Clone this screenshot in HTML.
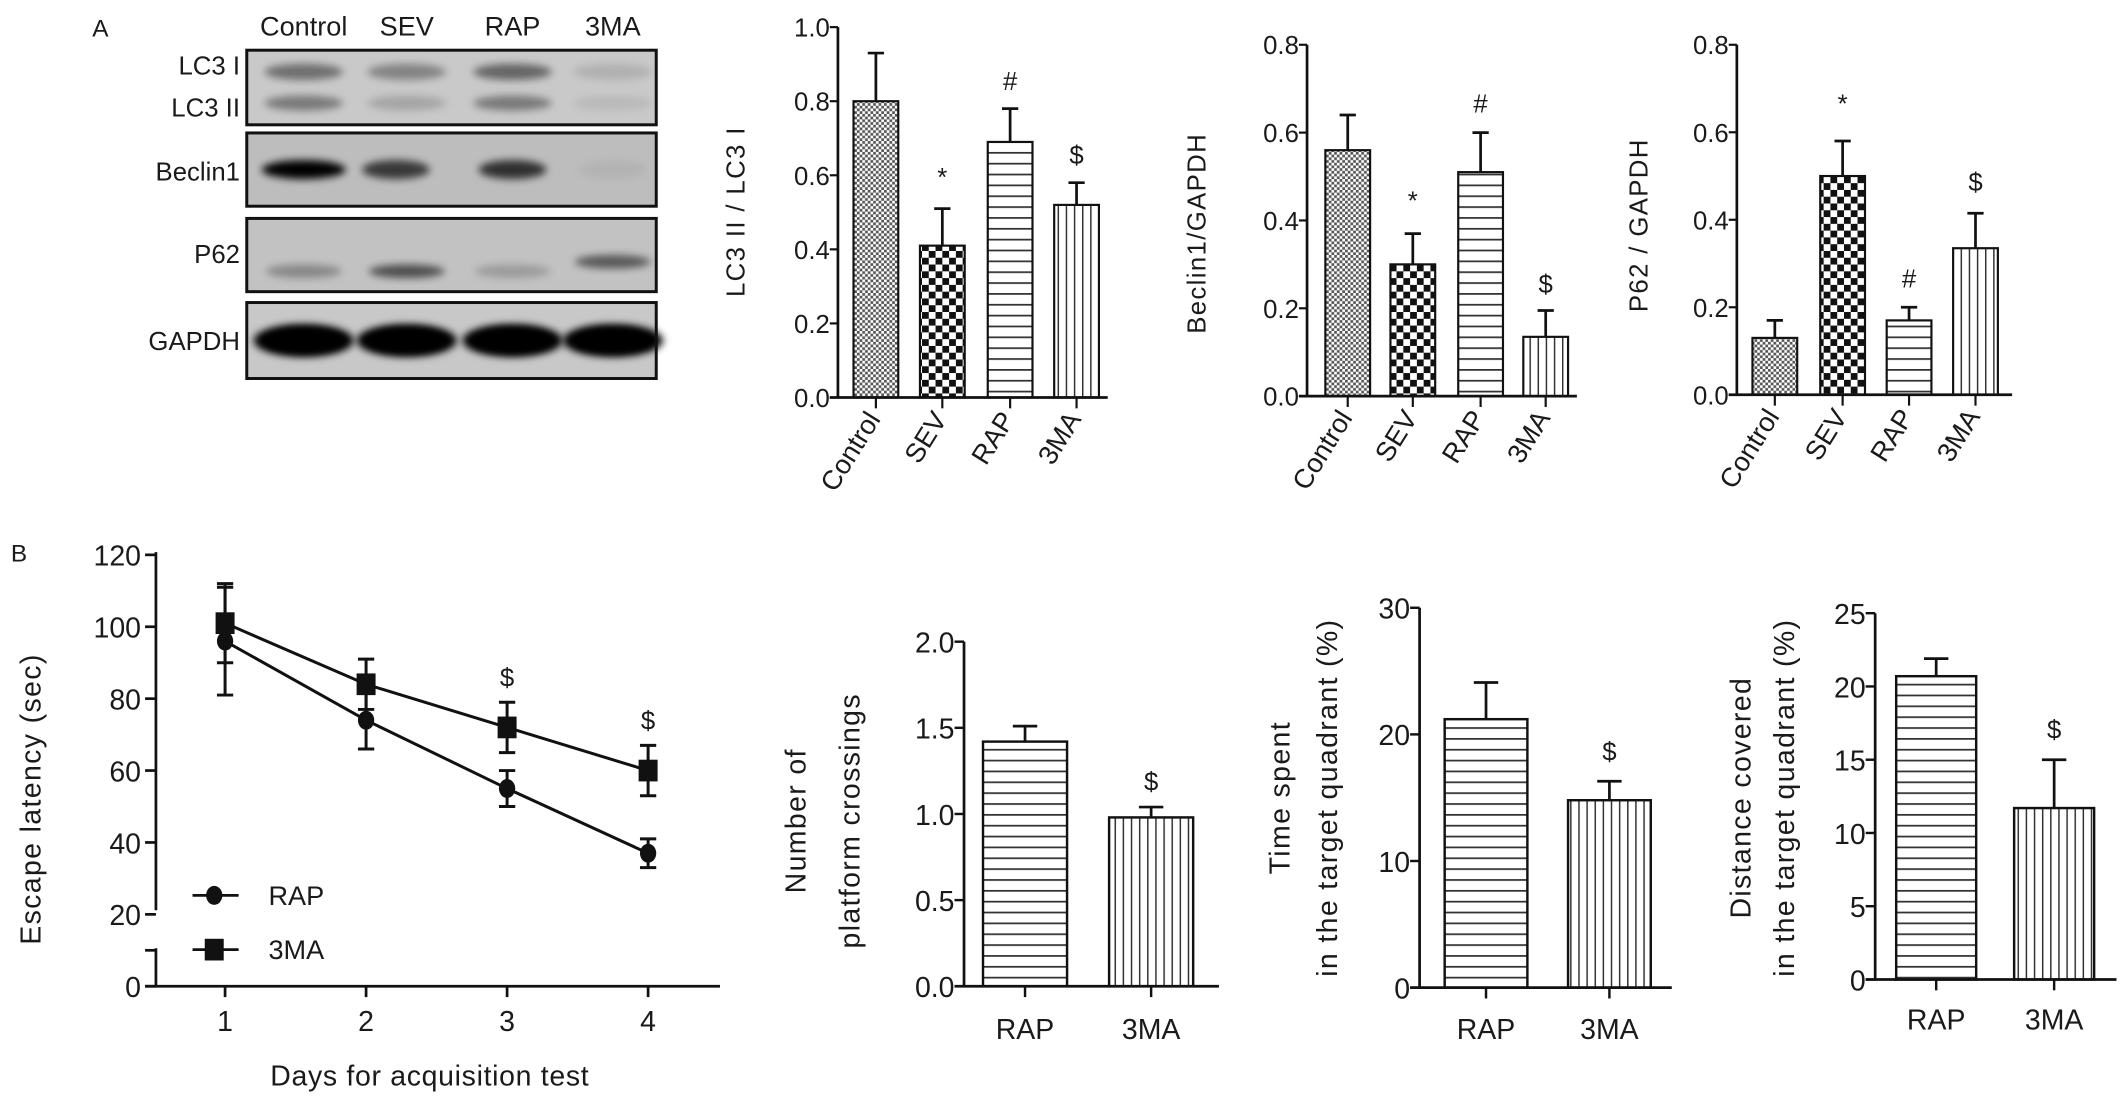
<!DOCTYPE html>
<html><head><meta charset="utf-8"><style>
html,body{margin:0;padding:0;background:#fff;}
svg{display:block;}
text{font-family:"Liberation Sans",sans-serif;fill:#1a1a1a;}
</style></head><body>
<svg id="fig" width="2126" height="1107" viewBox="0 0 1568 816" preserveAspectRatio="none" xmlns="http://www.w3.org/2000/svg">
<defs>
<pattern id="pCtrl" width="4" height="4" patternUnits="userSpaceOnUse"><rect width="4" height="4" fill="#fff"/><rect width="2" height="2" fill="#555"/><rect x="2" y="2" width="2" height="2" fill="#555"/></pattern>
<pattern id="pSev" width="10" height="10" patternUnits="userSpaceOnUse"><rect width="10" height="10" fill="#fff"/><rect width="5" height="5" fill="#111"/><rect x="5" y="5" width="5" height="5" fill="#111"/></pattern>
<pattern id="pH" width="10" height="8" patternUnits="userSpaceOnUse"><rect width="10" height="8" fill="#fff"/><rect y="0" width="10" height="1.3" fill="#333"/></pattern>
<pattern id="pV" width="6" height="10" patternUnits="userSpaceOnUse"><rect width="6" height="10" fill="#fff"/><rect x="0" width="1.1" height="10" fill="#333"/></pattern>
<filter id="blur3" x="-20%" y="-50%" width="140%" height="200%"><feGaussianBlur stdDeviation="3"/></filter>
</defs>
<g id="blot"></g>
<g id="charts"></g>
</svg>
<script>
// ---- Panel A data ----
const groupsA = ["Control","SEV","RAP","3MA"];
const lc3Values = [0.80,0.41,0.69,0.52];
const lc3Errors = [0.13,0.10,0.09,0.06];
const lc3Marks = ["","*","#","$"];
const lc3MarkY = [0,0.60,0.86,0.66];
const lc3Ticks = ["0.0","0.2","0.4","0.6","0.8","1.0"];
const becValues = [0.56,0.30,0.51,0.135];
const becErrors = [0.08,0.07,0.09,0.06];
const becMarks = ["","*","#","$"];
const becMarkY = [0,0.45,0.67,0.26];
const becTicks = ["0.0","0.2","0.4","0.6","0.8"];
const p62Values = [0.13,0.50,0.17,0.335];
const p62Errors = [0.04,0.08,0.03,0.08];
const p62Marks = ["","*","#","$"];
const p62MarkY = [0,0.67,0.27,0.49];
const p62Ticks = ["0.0","0.2","0.4","0.6","0.8"];
// ---- Panel B data ----
const days = [1,2,3,4];
const rapLatency = [96,74,55,37];
const rapLatErr = [15,8,5,4];
const maLatency = [101,84,72,60];
const maLatErr = [11,7,7,7];
const latMarks = ["","","$","$"];
const latMarkY = [0,0,86,74];
const latTicks = [0,10,20,40,60,80,100,120];
const groupsB = ["RAP","3MA"];
const crossValues = [1.42,0.98];
const crossErrors = [0.09,0.06];
const crossTicks = ["0.0","0.5","1.0","1.5","2.0"];
const timeValues = [21.2,14.8];
const timeErrors = [2.9,1.5];
const timeTicks = ["0","10","20","30"];
const distValues = [20.7,11.7];
const distErrors = [1.2,3.3];
const distTicks = ["0","5","10","15","20","25"];

const NS="http://www.w3.org/2000/svg";
function mk(parent,tag,attrs,txt){const e=document.createElementNS(NS,tag);for(const k in attrs)e.setAttribute(k,attrs[k]);if(txt!==undefined)e.textContent=txt;parent.appendChild(e);return e;}
const charts=document.getElementById('charts');

// ---- Blot ----
const blot=document.getElementById('blot');
mk(blot,'text',{x:68,y:27,'font-size':18},'A');
const laneX=[224,300,378,452];
groupsA.forEach((g,i)=>{const t=mk(blot,'text',{x:laneX[i],y:26,'font-size':20,'text-anchor':'middle'},g);

});
const boxes=[[37,92],[98,152],[161,215],[223,279]];
const bgFill=['#c9c9c9','#bdbdbd','#c2c2c2','#c8c8c8'];
boxes.forEach((b,i)=>{const r=mk(blot,'rect',{x:182,y:b[0],width:302,height:b[1]-b[0],fill:bgFill[i]});

});
function band(cx,cy,w,h,op){mk(blot,'ellipse',{cx:cx,cy:cy,rx:w/2,ry:h/2,fill:'#000','fill-opacity':op,filter:'url(#blur3)'});}
const lc3I=[0.45,0.35,0.5,0.12], lc3II=[0.4,0.18,0.4,0.08], bec=[1,0.7,0.75,0.05], p62=[0.3,0.6,0.2,0.55];
laneX.forEach((x,i)=>{band(x,53,58,12,lc3I[i]);band(x,76,58,11,lc3II[i]);band(x+(i==1?-8:0),125,i==0?62:50,14,bec[i]);
band(x,i==3?193:200,56,10,p62[i]);band(x,251,74,24,1);band(x,251,60,18,1);});
boxes.forEach((b,i)=>{mk(blot,'rect',{x:182,y:b[0],width:302,height:b[1]-b[0],fill:'none',stroke:'#111','stroke-width':2.2});});
const blotLabels=[["LC3 I",55],["LC3 II",86],["Beclin1",133],["P62",194],["GAPDH",258]];
blotLabels.forEach(l=>{const t=mk(blot,'text',{x:177,y:l[1],'font-size':19,'text-anchor':'end'},l[0]);

});

// ---- Bar chart builder (panel A) ----
const fillsA=['url(#pCtrl)','url(#pSev)','url(#pH)','url(#pV)'];
function barChartA(name,cfg,values,errors,marks,markY,ticks,maxV){
  const g=mk(charts,'g',{});
  
  
  const y=v=>cfg.y0-(cfg.y0-cfg.yTop)*v/maxV;
  values.forEach((v,i)=>{
    const cx=cfg.cx[i], w=cfg.w;
    const ex=mk(g,'path',{d:`M${cx} ${y(v)}V${y(v+errors[i])}M${cx-6} ${y(v+errors[i])}H${cx+6}`,stroke:'#111','stroke-width':2,fill:'none'});
    
    const r=mk(g,'rect',{x:cx-w/2,y:y(v),width:w,height:cfg.y0-y(v),fill:fillsA[i],stroke:'#111','stroke-width':1.6});
    
    
    if(marks[i]){const m=mk(g,'text',{x:cx,y:y(markY[i])+8,'font-size':19,'text-anchor':'middle',fill:'#444'},marks[i]);
      }
    mk(g,'line',{x1:cx,x2:cx,y1:cfg.y0,y2:cfg.y0+8,stroke:'#111','stroke-width':1.6});
    const lb=mk(g,'text',{x:cx+4,y:cfg.y0+16,'font-size':20,'text-anchor':'end',transform:`rotate(-58 ${cx+4} ${cfg.y0+16})`},groupsA[i]);
    
  });
  const ax=mk(g,'path',{d:`M${cfg.ax} ${cfg.yTop}V${cfg.y0}M${cfg.ax-6} ${cfg.y0}H${cfg.xEnd}`,stroke:'#111','stroke-width':2,fill:'none'});
  
  ticks.forEach((t,i)=>{const v=maxV*i/(ticks.length-1);
    mk(g,'line',{x1:cfg.ax-6,x2:cfg.ax,y1:y(v),y2:y(v),stroke:'#111','stroke-width':1.6});
    const tl=mk(g,'text',{x:cfg.ax-6,y:y(v)+7,'font-size':19,'text-anchor':'end'},t);
    });
  const yl=mk(g,'text',{x:cfg.yl,y:cfg.ylY,'font-size':19,'text-anchor':'middle',transform:`rotate(-90 ${cfg.yl} ${cfg.ylY})`,'letter-spacing':'1'},cfg.title);
  
}
barChartA('lc3-ratio-chart',{ax:618,yTop:20,y0:293,xEnd:817,cx:[646,695,745,794],w:33,yl:549,ylY:156,title:'LC3 II / LC3 I'},lc3Values,lc3Errors,lc3Marks,lc3MarkY,lc3Ticks,1.0);
barChartA('beclin1-chart',{ax:964,yTop:33,y0:292,xEnd:1163,cx:[994,1042,1092,1140],w:33,yl:889,ylY:172,title:'Beclin1/GAPDH'},becValues,becErrors,becMarks,becMarkY,becTicks,0.8);
barChartA('p62-chart',{ax:1281,yTop:33,y0:291,xEnd:1484,cx:[1309,1359,1408,1457],w:33,yl:1215,ylY:166,title:'P62 / GAPDH'},p62Values,p62Errors,p62Marks,p62MarkY,p62Ticks,0.8);

// ---- Line chart (panel B) ----
(function(){
  const g=mk(charts,'g',{});
  
  
  mk(g,'text',{x:8,y:414,'font-size':18},'B');
  const y=v=>727-2.65*v, x=d=>166+(d-1)*104;
  const ax=mk(g,'path',{d:`M115 407V671M115 699V727M107 727H531`,stroke:'#111','stroke-width':2,fill:'none'});
  
  latTicks.forEach(t=>{mk(g,'line',{x1:107,x2:115,y1:y(t),y2:y(t),stroke:'#111','stroke-width':2});
    if(t!==10){const tl=mk(g,'text',{x:104,y:y(t)+8,'font-size':21,'text-anchor':'end'},t);}});
  days.forEach(d=>{mk(g,'line',{x1:x(d),x2:x(d),y1:727,y2:735,stroke:'#111','stroke-width':2});
    const tl=mk(g,'text',{x:x(d),y:760,'font-size':21,'text-anchor':'middle'},d);});
  const series=[[rapLatency,rapLatErr,'rap','circle'],[maLatency,maLatErr,'3ma','square']];
  series.forEach(s=>{
    const l=mk(g,'polyline',{points:s[0].map((v,i)=>x(days[i])+','+y(v)).join(' '),fill:'none',stroke:'#111','stroke-width':2.2});
    
    s[0].forEach((v,i)=>{const cx=x(days[i]);
      const e=mk(g,'path',{d:`M${cx} ${y(v-s[1][i])}V${y(v+s[1][i])}M${cx-6} ${y(v-s[1][i])}H${cx+6}M${cx-6} ${y(v+s[1][i])}H${cx+6}`,stroke:'#111','stroke-width':2.2,fill:'none'});
      
      const p=s[3]==='circle'?mk(g,'ellipse',{cx:cx,cy:y(v),rx:6,ry:7,fill:'#111'}):mk(g,'rect',{x:cx-7,y:y(v)-8,width:14,height:16,fill:'#111'});
      
      });
  });
  latMarks.forEach((m,i)=>{if(m){const t=mk(g,'text',{x:x(days[i]),y:y(latMarkY[i])+7,'font-size':19,'text-anchor':'middle',fill:'#444'},m);}});
  const l1=mk(g,'g',{});
  mk(l1,'line',{x1:142,x2:176,y1:660,y2:660,stroke:'#111','stroke-width':2});mk(l1,'ellipse',{cx:158,cy:660,rx:6,ry:7,fill:'#111'});
  mk(l1,'text',{x:198,y:667,'font-size':20},'RAP');
  const l2=mk(g,'g',{});
  mk(l2,'line',{x1:142,x2:176,y1:700,y2:700,stroke:'#111','stroke-width':2});mk(l2,'rect',{x:151,y:692,width:14,height:16,fill:'#111'});
  mk(l2,'text',{x:198,y:707,'font-size':20},'3MA');
  const xt=mk(g,'text',{x:317,y:800,'font-size':21,'text-anchor':'middle','letter-spacing':'0.5'},'Days for acquisition test');
  const yt=mk(g,'text',{x:30,y:589,'font-size':21,'text-anchor':'middle',transform:'rotate(-90 30 589)','letter-spacing':'1'},'Escape latency (sec)');
})();

// ---- Bar chart builder (panel B) ----
const fillsB=['url(#pH)','url(#pV)'];
function barChartB(name,cfg,values,errors,ticks,maxV){
  const g=mk(charts,'g',{});
  
  
  const y=v=>cfg.y0-(cfg.y0-cfg.yTop)*v/maxV;
  values.forEach((v,i)=>{const cx=cfg.cx[i],w=cfg.w;
    const ex=mk(g,'path',{d:`M${cx} ${y(v)}V${y(v+errors[i])}M${cx-9} ${y(v+errors[i])}H${cx+9}`,stroke:'#111','stroke-width':2,fill:'none'});
    
    const r=mk(g,'rect',{x:cx-w/2,y:y(v),width:w,height:cfg.y0-y(v),fill:fillsB[i],stroke:'#111','stroke-width':1.8});
    
    
    mk(g,'line',{x1:cx,x2:cx,y1:cfg.y0,y2:cfg.y0+8,stroke:'#111','stroke-width':1.8});
    const lb=mk(g,'text',{x:cx,y:cfg.xlY,'font-size':21,'text-anchor':'middle'},groupsB[i]);
    });
  const m=mk(g,'text',{x:cfg.cx[1],y:y(cfg.markY)+8,'font-size':19,'text-anchor':'middle',fill:'#444'},'$');
  
  const ax=mk(g,'path',{d:`M${cfg.ax} ${cfg.yTop}V${cfg.y0}M${cfg.ax-7} ${cfg.y0}H${cfg.xEnd}`,stroke:'#111','stroke-width':2,fill:'none'});
  
  ticks.forEach((t,i)=>{const v=maxV*i/(ticks.length-1);
    mk(g,'line',{x1:cfg.ax-7,x2:cfg.ax,y1:y(v),y2:y(v),stroke:'#111','stroke-width':1.8});
    const tl=mk(g,'text',{x:cfg.ax-7,y:y(v)+8,'font-size':21,'text-anchor':'end'},t);
    });
  cfg.titles.forEach((tt,k)=>{const yx=cfg.yl[k];
    const yl=mk(g,'text',{x:yx,y:cfg.ylY,'font-size':21,'text-anchor':'middle',transform:`rotate(-90 ${yx} ${cfg.ylY})`,'letter-spacing':'1'},tt);
    });
}
barChartB('platform-crossings-chart',{ax:711,yTop:473,y0:727,xEnd:899,cx:[756,849],w:62,xlY:766,markY:1.2,yl:[594,634],ylY:605,titles:['Number of','platform crossings']},crossValues,crossErrors,crossTicks,2.0);
barChartB('time-spent-chart',{ax:1047,yTop:448,y0:728,xEnd:1233,cx:[1096,1187],w:61,xlY:766,markY:18.8,yl:[951,986],ylY:588,titles:['Time spent','in the target quadrant (%)']},timeValues,timeErrors,timeTicks,30);
barChartB('distance-covered-chart',{ax:1383,yTop:452,y0:722,xEnd:1561,cx:[1428,1515],w:59,xlY:759,markY:17.2,yl:[1291,1323],ylY:588,titles:['Distance covered','in the target quadrant (%)']},distValues,distErrors,distTicks,25);
</script>
</body></html>
